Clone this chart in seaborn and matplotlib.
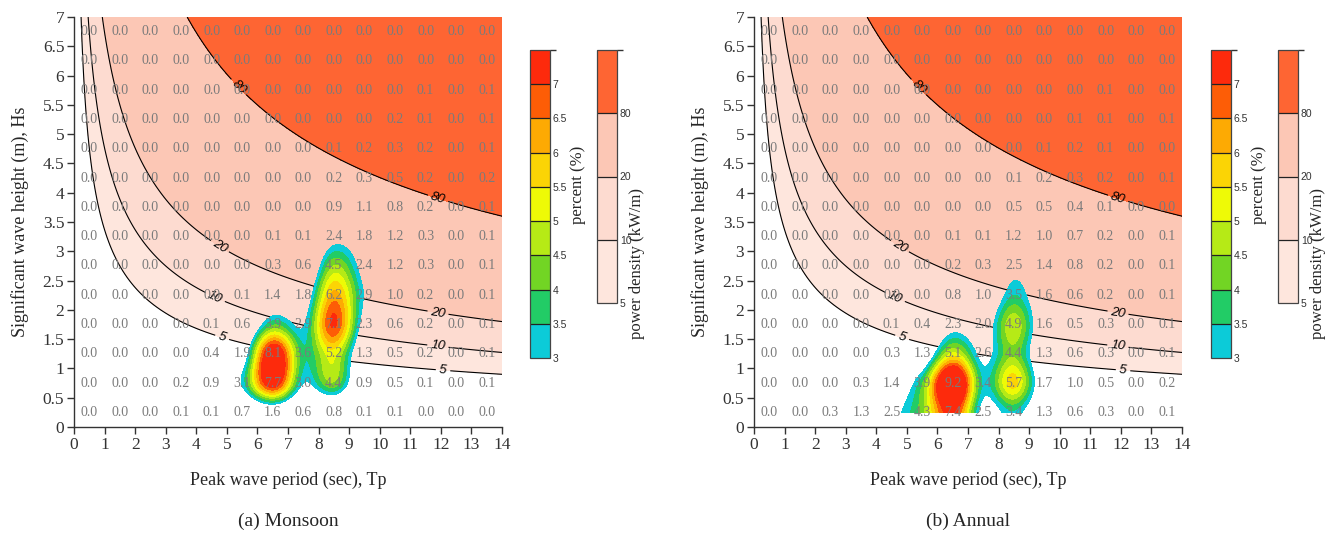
import numpy as np
import matplotlib
matplotlib.use("Agg")
import matplotlib.pyplot as plt
import seaborn as sns
from matplotlib.colors import ListedColormap, BoundaryNorm
from matplotlib.cm import ScalarMappable
from matplotlib.ticker import FormatStrFormatter

# ---- bins (cell centres) ----
tp_bins = [0.5, 1.5, 2.5, 3.5, 4.5, 5.5, 6.5, 7.5, 8.5, 9.5, 10.5, 11.5, 12.5, 13.5]
hs_bins = [6.75, 6.25, 5.75, 5.25, 4.75, 4.25, 3.75, 3.25, 2.75, 2.25, 1.75, 1.25, 0.75, 0.25]

# ---- occurrence (%) per (Hs, Tp) bin, rows follow hs_bins ----
monsoon_pct = [
    [0.0, 0.0, 0.0, 0.0, 0.0, 0.0, 0.0, 0.0, 0.0, 0.0, 0.0, 0.0, 0.0, 0.0],
    [0.0, 0.0, 0.0, 0.0, 0.0, 0.0, 0.0, 0.0, 0.0, 0.0, 0.0, 0.0, 0.0, 0.0],
    [0.0, 0.0, 0.0, 0.0, 0.0, 0.0, 0.0, 0.0, 0.0, 0.0, 0.0, 0.1, 0.0, 0.1],
    [0.0, 0.0, 0.0, 0.0, 0.0, 0.0, 0.0, 0.0, 0.0, 0.0, 0.2, 0.1, 0.0, 0.1],
    [0.0, 0.0, 0.0, 0.0, 0.0, 0.0, 0.0, 0.0, 0.1, 0.2, 0.3, 0.2, 0.0, 0.1],
    [0.0, 0.0, 0.0, 0.0, 0.0, 0.0, 0.0, 0.0, 0.2, 0.3, 0.5, 0.2, 0.0, 0.2],
    [0.0, 0.0, 0.0, 0.0, 0.0, 0.0, 0.0, 0.0, 0.9, 1.1, 0.8, 0.2, 0.0, 0.1],
    [0.0, 0.0, 0.0, 0.0, 0.0, 0.0, 0.1, 0.1, 2.4, 1.8, 1.2, 0.3, 0.0, 0.1],
    [0.0, 0.0, 0.0, 0.0, 0.0, 0.0, 0.3, 0.6, 4.5, 2.4, 1.2, 0.3, 0.0, 0.1],
    [0.0, 0.0, 0.0, 0.0, 0.0, 0.1, 1.4, 1.8, 6.2, 2.9, 1.0, 0.2, 0.0, 0.1],
    [0.0, 0.0, 0.0, 0.0, 0.1, 0.6, 3.9, 2.9, 7.1, 2.3, 0.6, 0.2, 0.0, 0.1],
    [0.0, 0.0, 0.0, 0.0, 0.4, 1.9, 8.1, 3.6, 5.2, 1.3, 0.5, 0.2, 0.0, 0.1],
    [0.0, 0.0, 0.0, 0.2, 0.9, 3.1, 7.7, 3.0, 4.4, 0.9, 0.5, 0.1, 0.0, 0.1],
    [0.0, 0.0, 0.0, 0.1, 0.1, 0.7, 1.6, 0.6, 0.8, 0.1, 0.1, 0.0, 0.0, 0.0],
]

annual_pct = [
    [0.0, 0.0, 0.0, 0.0, 0.0, 0.0, 0.0, 0.0, 0.0, 0.0, 0.0, 0.0, 0.0, 0.0],
    [0.0, 0.0, 0.0, 0.0, 0.0, 0.0, 0.0, 0.0, 0.0, 0.0, 0.0, 0.0, 0.0, 0.0],
    [0.0, 0.0, 0.0, 0.0, 0.0, 0.0, 0.0, 0.0, 0.0, 0.0, 0.0, 0.1, 0.0, 0.0],
    [0.0, 0.0, 0.0, 0.0, 0.0, 0.0, 0.0, 0.0, 0.0, 0.0, 0.1, 0.1, 0.0, 0.1],
    [0.0, 0.0, 0.0, 0.0, 0.0, 0.0, 0.0, 0.0, 0.0, 0.1, 0.2, 0.1, 0.0, 0.0],
    [0.0, 0.0, 0.0, 0.0, 0.0, 0.0, 0.0, 0.0, 0.1, 0.2, 0.3, 0.2, 0.0, 0.1],
    [0.0, 0.0, 0.0, 0.0, 0.0, 0.0, 0.0, 0.0, 0.5, 0.5, 0.4, 0.1, 0.0, 0.0],
    [0.0, 0.0, 0.0, 0.0, 0.0, 0.0, 0.1, 0.1, 1.2, 1.0, 0.7, 0.2, 0.0, 0.1],
    [0.0, 0.0, 0.0, 0.0, 0.0, 0.0, 0.2, 0.3, 2.5, 1.4, 0.8, 0.2, 0.0, 0.1],
    [0.0, 0.0, 0.0, 0.0, 0.0, 0.0, 0.8, 1.0, 3.5, 1.6, 0.6, 0.2, 0.0, 0.1],
    [0.0, 0.0, 0.0, 0.0, 0.1, 0.4, 2.3, 2.0, 4.9, 1.6, 0.5, 0.3, 0.0, 0.1],
    [0.0, 0.0, 0.0, 0.0, 0.3, 1.3, 5.1, 2.6, 4.4, 1.3, 0.6, 0.3, 0.0, 0.1],
    [0.0, 0.0, 0.0, 0.3, 1.4, 3.9, 9.2, 3.4, 5.7, 1.7, 1.0, 0.5, 0.0, 0.2],
    [0.0, 0.0, 0.3, 1.3, 2.5, 4.3, 7.4, 2.5, 3.4, 1.3, 0.6, 0.3, 0.0, 0.1],
]

panel_titles = ["(a) Monsoon", "(b) Annual"]

# ---- contour levels and colours ----
pct_levels = [3, 3.5, 4, 4.5, 5, 5.5, 6, 6.5, 7]
pct_colors = ["#0ccbd8", "#22cc66", "#72d524", "#b6ea16", "#eefa06",
              "#fbd405", "#fdaa03", "#fd5d06", "#fd2a0c"]
power_levels = [5, 10, 20, 80]
power_colors = ["#fee6dd", "#fddbd0", "#fcc7b5", "#fe6533"]
# wave power flux  P = 0.49 Hs^2 Te  (kW/m), with Te ~ 0.9 Tp
POWER_COEF = 0.49 * 0.9

label_spots = [(5.36, 5.79), (11.9, 3.89), (4.74, 3.06), (11.9, 1.93),
               (4.6, 2.2), (11.9, 1.37), (4.84, 1.52), (12.07, 0.96)]

sns.set_theme(style="ticks")
SERIF = ["Liberation Serif", "DejaVu Serif"]
SANS = ["Liberation Sans", "DejaVu Sans"]
plt.rcParams["font.family"] = SERIF
plt.rcParams["axes.edgecolor"] = "#333333"
plt.rcParams["xtick.color"] = "#333333"
plt.rcParams["ytick.color"] = "#333333"


def keys_weights(t, a=-0.5):
    def k(x):
        x = np.abs(x)
        return np.where(x <= 1, (a + 2) * x**3 - (a + 3) * x**2 + 1,
                        np.where(x < 2, a * x**3 - 5 * a * x**2 + 8 * a * x - 4 * a, 0.0))
    return [k(t + 1), k(t), k(1 - t), k(2 - t)]


def cubic_resample(z, u, axis):
    n = z.shape[axis]
    i = np.clip(np.floor(u).astype(int), 0, n - 2)
    t = u - i
    w = keys_weights(t)
    out = 0.0
    for wk, off in zip(w, (-1, 0, 1, 2)):
        idx = np.clip(i + off, 0, n - 1)
        vals = np.take(z, idx, axis=axis)
        out = out + vals * (wk[None, :] if axis == 1 else wk[:, None])
    return out


def draw_panel(fig, rect, cb_rects, table, title):
    ax = fig.add_axes(rect)

    # power density background
    T, H = np.meshgrid(np.linspace(0.001, 14, 500), np.linspace(0, 7, 400))
    P = POWER_COEF * H**2 * T
    ax.contourf(T, H, P, levels=power_levels + [1e6], colors=power_colors, zorder=0)
    cs = ax.contour(T, H, P, levels=power_levels, colors="black", linewidths=0.8, zorder=1)
    texts = ax.clabel(cs, fmt="%d", fontsize=9.5, inline=True, inline_spacing=4,
                      manual=label_spots)
    for t in texts:
        t.set_fontstyle("italic")
        t.set_family(SANS)

    # smoothed occurrence field
    z = np.array(table, dtype=float)[::-1]
    hs_up = np.array(hs_bins)[::-1]
    nx, ny = len(tp_bins), len(hs_up)
    ux = np.linspace(0, nx - 1, 40 * (nx - 1) + 1)
    uy = np.linspace(0, ny - 1, 40 * (ny - 1) + 1)
    zf = cubic_resample(cubic_resample(z, ux, axis=1), uy, axis=0)
    xf = np.interp(ux, np.arange(nx), tp_bins)
    yf = np.interp(uy, np.arange(ny), hs_up)
    ax.contourf(xf, yf, zf, levels=pct_levels + [100], colors=pct_colors, zorder=2)

    # bin values
    for r, hs in enumerate(hs_bins):
        for c, tp in enumerate(tp_bins):
            ax.text(tp, hs, f"{table[r][c]:.1f}", ha="center", va="center",
                    color="#7b7b7b", fontsize=10, zorder=3)

    ax.set_xlim(0, 14)
    ax.set_ylim(0, 7)
    ax.set_xticks(range(0, 15))
    ax.set_yticks(np.arange(0, 7.01, 0.5))
    ax.yaxis.set_major_formatter(FormatStrFormatter("%g"))
    ax.tick_params(direction="out", length=5, width=1, labelsize=12.5, pad=2)
    sns.despine(ax=ax)
    for s in ("left", "bottom"):
        ax.spines[s].set_linewidth(1)
    ax.set_xlabel("Peak wave period (sec), Tp", fontsize=13, labelpad=14)
    ax.set_ylabel("Significant wave height (m), Hs", fontsize=13, labelpad=10)
    ax.text(0.5, -0.229, title, transform=ax.transAxes, ha="center", va="center",
            fontsize=14)

    # colour bars
    cax1 = fig.add_axes(cb_rects[0])
    b1 = pct_levels + [7.5]
    sm1 = ScalarMappable(norm=BoundaryNorm(b1, len(pct_colors)), cmap=ListedColormap(pct_colors))
    cb1 = fig.colorbar(sm1, cax=cax1, boundaries=b1, spacing="uniform",
                       ticks=pct_levels, drawedges=True)
    cb1.ax.set_yticklabels([f"{v:g}" for v in pct_levels])

    cax2 = fig.add_axes(cb_rects[1])
    b2 = power_levels + [160]
    sm2 = ScalarMappable(norm=BoundaryNorm(b2, len(power_colors)), cmap=ListedColormap(power_colors))
    cb2 = fig.colorbar(sm2, cax=cax2, boundaries=b2, spacing="uniform",
                       ticks=power_levels, drawedges=True)
    cb2.ax.set_yticklabels([f"{v:g}" for v in power_levels])

    for cb in (cb1, cb2):
        cb.outline.set_edgecolor("#444444")
        cb.outline.set_linewidth(0.9)
        cb.dividers.set_color("#222222")
        cb.dividers.set_linewidth(0.9)
        cb.ax.tick_params(length=0, pad=2, labelsize=7.5)
        for lab in cb.ax.get_yticklabels():
            lab.set_family(SANS)
    return ax


fig = plt.figure(figsize=(13.41, 5.35), dpi=100)
W, Hpx = 1341.0, 535.0


def rect(x0, y0, x1, y1):
    return [x0 / W, 1 - y1 / Hpx, (x1 - x0) / W, (y1 - y0) / Hpx]


panels = [
    (rect(74, 17, 502, 427), [rect(530, 50, 550, 358), rect(597, 50, 617, 303)], 578, 637),
    (rect(754, 17, 1182, 427), [rect(1211, 50, 1231, 358), rect(1278, 50, 1298, 303)], 1259, 1318),
]
for (ax_rect, cbr, px1, px2), table, title in zip(panels, [monsoon_pct, annual_pct], panel_titles):
    draw_panel(fig, ax_rect, cbr, table, title)
    fig.text(px1 / W, 1 - 185 / Hpx, "percent (%)", rotation=90, ha="center", va="center",
             fontsize=12)
    fig.text(px2 / W, 1 - 264 / Hpx, "power density (kW/m)", rotation=90, ha="center",
             va="center", fontsize=12)

fig.savefig("out.png", dpi=100)
